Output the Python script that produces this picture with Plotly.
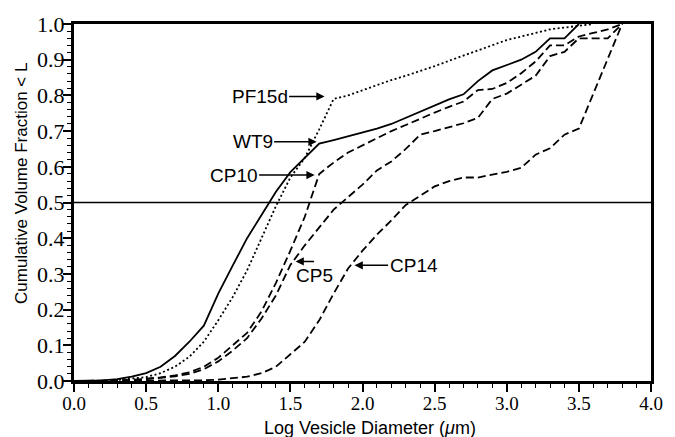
import plotly.graph_objects as go

# Log vesicle diameter bins (log10 of diameter in micrometres)
log_diam = [0.0, 0.1, 0.2, 0.3, 0.4, 0.5, 0.6, 0.7, 0.8, 0.9,
            1.0, 1.1, 1.2, 1.3, 1.4, 1.5, 1.6, 1.7, 1.8, 1.9,
            2.0, 2.1, 2.2, 2.3, 2.4, 2.5, 2.6, 2.7, 2.8, 2.9,
            3.0, 3.1, 3.2, 3.3, 3.4, 3.5, 3.6, 3.7, 3.8]

# Cumulative volume fraction for each sample
wt9 = [0.0, 0.0, 0.002, 0.005, 0.012, 0.022, 0.04, 0.07, 0.11, 0.155,
       0.245, 0.323, 0.40, 0.465, 0.53, 0.585, 0.625, 0.665, 0.675, 0.685,
       0.695, 0.707, 0.72, 0.737, 0.755, 0.772, 0.789, 0.803, 0.84, 0.87,
       0.885, 0.90, 0.922, 0.96, 0.96, 1.0]

pf15d = [0.0, 0.0, 0.001, 0.003, 0.006, 0.011, 0.022, 0.04, 0.068, 0.11,
         0.17, 0.235, 0.31, 0.40, 0.49, 0.57, 0.625, 0.705, 0.79, 0.80,
         0.815, 0.83, 0.843, 0.855, 0.868, 0.882, 0.897, 0.912, 0.927, 0.941,
         0.955, 0.965, 0.976, 0.985, 0.99, 0.995, 1.0]

cp10 = [0.0, 0.0, 0.0, 0.001, 0.003, 0.006, 0.01, 0.016, 0.024, 0.04,
        0.065, 0.10, 0.135, 0.195, 0.275, 0.365, 0.46, 0.58, 0.612, 0.64,
        0.66, 0.68, 0.70, 0.717, 0.735, 0.752, 0.768, 0.783, 0.815, 0.818,
        0.835, 0.862, 0.895, 0.94, 0.94, 0.965, 0.975, 0.985, 1.0]

cp5 = [0.0, 0.0, 0.0, 0.001, 0.002, 0.005, 0.008, 0.013, 0.02, 0.033,
       0.055, 0.085, 0.12, 0.175, 0.24, 0.325, 0.38, 0.43, 0.48, 0.515,
       0.55, 0.59, 0.615, 0.65, 0.69, 0.70, 0.71, 0.722, 0.737, 0.79,
       0.805, 0.83, 0.855, 0.91, 0.922, 0.96, 0.96, 0.96, 1.0]

cp14 = [0.0, 0.0, 0.0, 0.0, 0.0, 0.0, 0.0, 0.0005, 0.001, 0.002,
        0.004, 0.007, 0.012, 0.022, 0.04, 0.075, 0.11, 0.17, 0.245, 0.315,
        0.365, 0.41, 0.45, 0.493, 0.52, 0.545, 0.56, 0.57, 0.57, 0.578,
        0.586, 0.597, 0.634, 0.652, 0.69, 0.707, 0.805, 0.905, 1.0]

series = [
    ("WT9", wt9, "solid"),
    ("PF15d", pf15d, "2px,2.5px"),
    ("CP10", cp10, "8px,4px"),
    ("CP5", cp5, "8px,4px"),
    ("CP14", cp14, "8px,4px"),
]

# Label text, arrow tip (data coords), label offset from tip (px)
labels = [
    ("PF15d", 1.737, 0.797, -65, 0),
    ("WT9", 1.682, 0.670, -64, 0),
    ("CP10", 1.668, 0.577, -81, 0),
    ("CP14", 1.945, 0.324, 59, 0),
]

x_ticks = [0.0, 0.5, 1.0, 1.5, 2.0, 2.5, 3.0, 3.5, 4.0]
y_ticks = [0.0, 0.1, 0.2, 0.3, 0.4, 0.5, 0.6, 0.7, 0.8, 0.9, 1.0]

fig = go.Figure()
for name, vals, dash in series:
    fig.add_trace(go.Scatter(
        x=log_diam[:len(vals)], y=vals, mode="lines", name=name,
        line=dict(color="black", width=1.8, dash=dash),
        showlegend=False,
    ))

# Median reference line
fig.add_shape(type="line", xref="x", yref="y", x0=0, x1=4, y0=0.5, y1=0.5,
              line=dict(color="black", width=1.5))

sans = "Liberation Sans, Arial, sans-serif"
serif = "Liberation Serif, Times New Roman, serif"

for text, tx, ty, ax, ay in labels:
    fig.add_annotation(
        x=tx, y=ty, xref="x", yref="y", text=text, showarrow=True,
        ax=ax, ay=ay, arrowhead=2, arrowsize=1.1, arrowwidth=1.5,
        arrowcolor="black", font=dict(family=sans, size=19, color="black"),
    )

# CP5: arrow drawn above its label
fig.add_annotation(x=1.536, y=0.335, xref="x", yref="y", text="",
                   showarrow=True, ax=20, ay=0, arrowhead=2, arrowsize=1.1,
                   arrowwidth=1.5, arrowcolor="black")
fig.add_annotation(x=1.67, y=0.296, xref="x", yref="y", text="CP5",
                   showarrow=False,
                   font=dict(family=sans, size=19, color="black"))

# Axis titles
fig.add_annotation(x=-0.09, y=0.552, xref="paper", yref="paper",
                   text="Cumulative Volume Fraction &lt; L", textangle=-90,
                   showarrow=False, xanchor="center", yanchor="middle",
                   font=dict(family=sans, size=17, color="black"))
fig.add_annotation(x=0.513, y=-0.133, xref="paper", yref="paper",
                   text="Log Vesicle Diameter (<i>μ</i>m)",
                   showarrow=False, xanchor="center", yanchor="middle",
                   font=dict(family=sans, size=18, color="black"))

fig.update_xaxes(
    range=[0, 4], tickvals=x_ticks, ticktext=[f"{v:.1f}" for v in x_ticks],
    ticks="outside", ticklen=8, tickwidth=1.5, tickcolor="black",
    minor=dict(dtick=0.1, ticks="outside", ticklen=4, tickwidth=1,
               tickcolor="black"),
    showline=True, linewidth=3, linecolor="black", mirror=True,
    showgrid=False, zeroline=False, ticklabelstandoff=-5,
    tickfont=dict(family=serif, size=19, color="black"),
)
fig.update_yaxes(
    range=[0, 1], tickvals=y_ticks, ticktext=[f"{v:.1f}" for v in y_ticks],
    ticks="outside", ticklen=8, tickwidth=1.5, tickcolor="black",
    minor=dict(dtick=0.02, ticks="outside", ticklen=4, tickwidth=1,
               tickcolor="black"),
    showline=True, linewidth=3, linecolor="black", mirror=True,
    showgrid=False, zeroline=False, ticklabelstandoff=-6,
    tickfont=dict(family=serif, size=22, color="black"),
)

fig.update_layout(
    width=675, height=437,
    margin=dict(l=74, r=23, t=17, b=56),
    paper_bgcolor="white", plot_bgcolor="white",
)

fig.write_html("out.html")
